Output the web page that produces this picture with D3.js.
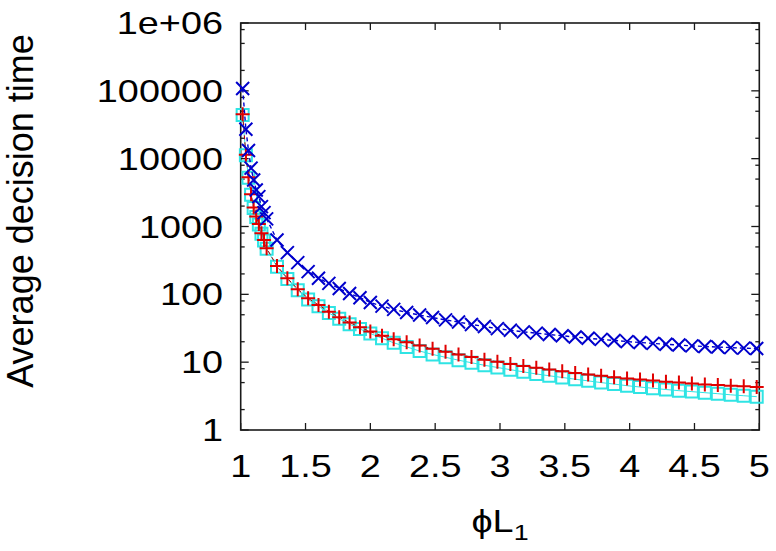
<!DOCTYPE html>
<html>
<head>
<meta charset="utf-8">
<script src="https://cdn.jsdelivr.net/npm/d3@7"></script>
<style>
  body { margin: 0; background: #fff; }
  text { font-family: "Liberation Sans", Arial, Helvetica, sans-serif; fill: #000; }
</style>
</head>
<body>
<svg id="chart"></svg>
<script>
// Constants
const width = 776;
const height = 551;

// Data (phi*L1 on x, average decision time on y)
const phiL1 = [
  1.015, 1.04, 1.06, 1.08, 1.10, 1.12, 1.14, 1.16, 1.18, 1.20,
  1.28, 1.36, 1.44, 1.52, 1.60, 1.68, 1.76, 1.84, 1.92, 2.00, 2.09, 2.18,
  2.28, 2.38, 2.48, 2.58, 2.68, 2.78, 2.88, 2.98, 3.08, 3.18,
  3.28, 3.38, 3.48, 3.58, 3.68, 3.78, 3.88, 3.98, 4.08, 4.18,
  4.28, 4.38, 4.48, 4.58, 4.68, 4.78, 4.88, 4.98
];
const timeCross = [
  108000, 27200, 13200, 7250, 4860, 3460, 2760, 1965, 1600, 1295,
  634, 412, 293, 216, 173, 145, 122, 103, 89, 76, 67, 60,
  54, 49.5, 45.5, 42, 39, 36, 33.5, 31.2, 29.5, 28,
  26.8, 25.6, 24.5, 23.5, 22.5, 21.7, 20.9, 20.1, 19.5, 18.9,
  18.4, 17.9, 17.4, 17.0, 16.7, 16.4, 16.1, 15.9
];
const timePlus = [
  45000, 11400, 5340, 2990, 1900, 1400, 1090, 796, 634, 478,
  262, 173, 119, 87.5, 69.8, 55.6, 45.9, 38.3, 32.7, 28.2, 24.5, 21.8,
  19.7, 17.6, 15.8, 14.3, 13.0, 11.9, 10.9, 10.1, 9.4, 8.8,
  8.25, 7.8, 7.35, 6.95, 6.6, 6.3, 6.0, 5.75, 5.55, 5.35,
  5.15, 5.0, 4.85, 4.7, 4.6, 4.5, 4.4, 4.3
];
const timeSquare = [
  44000, 11200, 5250, 2950, 1870, 1380, 1070, 780, 620, 468,
  255, 168, 115, 84, 66.5, 53, 43.5, 36.2, 30.8, 26.5, 22.5, 19.3,
  16.8, 14.6, 13.0, 11.8, 10.7, 9.8, 9.0, 8.35, 7.75, 7.2,
  6.7, 6.3, 5.95, 5.6, 5.3, 5.0, 4.75, 4.5, 4.3, 4.12,
  3.95, 3.8, 3.68, 3.55, 3.43, 3.3, 3.2, 3.1
];

// Tick labels
const xTicks = [1, 1.5, 2, 2.5, 3, 3.5, 4, 4.5, 5];
const xTickLabels = ["1", "1.5", "2", "2.5", "3", "3.5", "4", "4.5", "5"];
const yTicks = [1, 10, 100, 1000, 10000, 100000, 1000000];
const yTickLabels = ["1", "10", "100", "1000", "10000", "100000", "1e+06"];
const yMinorSteps = [2, 5, 8];

const svg = d3.select("#chart")
  .attr("width", width)
  .attr("height", height);

const plot = { left: 240.7, right: 759.3, top: 23, bottom: 430 };

// Scales
const x = d3.scaleLinear().domain([1, 5]).range([plot.left, plot.right]);
const y = d3.scaleLog().domain([1, 1e6]).range([plot.bottom, plot.top]);

const axisColor = "#1a1a1a";
const tickG = svg.append("g").attr("stroke", axisColor).attr("stroke-width", 1.3);

// x ticks, bottom and mirrored top
xTicks.forEach(v => {
  tickG.append("line").attr("x1", x(v)).attr("x2", x(v)).attr("y1", plot.bottom).attr("y2", plot.bottom - 7);
  tickG.append("line").attr("x1", x(v)).attr("x2", x(v)).attr("y1", plot.top).attr("y2", plot.top + 7);
});

// y ticks (major + minor), left and mirrored right
const yMinor = [];
yTicks.slice(0, -1).forEach(d => yMinorSteps.forEach(m => yMinor.push(d * m)));
yTicks.forEach(v => {
  tickG.append("line").attr("x1", plot.left).attr("x2", plot.left + 8).attr("y1", y(v)).attr("y2", y(v));
  tickG.append("line").attr("x1", plot.right).attr("x2", plot.right - 8).attr("y1", y(v)).attr("y2", y(v));
});
yMinor.forEach(v => {
  tickG.append("line").attr("x1", plot.left).attr("x2", plot.left + 4).attr("y1", y(v)).attr("y2", y(v));
  tickG.append("line").attr("x1", plot.right).attr("x2", plot.right - 4).attr("y1", y(v)).attr("y2", y(v));
});

// Border
svg.append("rect")
  .attr("x", plot.left).attr("y", plot.top)
  .attr("width", plot.right - plot.left).attr("height", plot.bottom - plot.top)
  .attr("fill", "none").attr("stroke", axisColor).attr("stroke-width", 1.6);

// Tick labels (slightly wide font, as in the reference)
const labelSize = 31;
const stretch = 1.22;
xTicks.forEach((v, i) => {
  svg.append("text")
    .attr("transform", `translate(${x(v)},477) scale(${stretch},1)`)
    .attr("text-anchor", "middle")
    .style("font-size", labelSize + "px")
    .text(xTickLabels[i]);
});
yTicks.forEach((v, i) => {
  svg.append("text")
    .attr("transform", `translate(223,${y(v) + 11}) scale(${stretch},1)`)
    .attr("text-anchor", "end")
    .style("font-size", labelSize + "px")
    .text(yTickLabels[i]);
});

// Axis titles
svg.append("text")
  .attr("transform", "translate(33,211) rotate(-90)")
  .attr("text-anchor", "middle")
  .style("font-size", "36px")
  .text("Average decision time");

const xTitle = svg.append("text")
  .attr("transform", `translate(500,532) scale(${stretch},1)`)
  .attr("text-anchor", "middle")
  .style("font-size", "31px");
xTitle.append("tspan").text("ϕL");
xTitle.append("tspan").attr("dy", 8).style("font-size", "22px").text("1");

// Series
const points = ys => phiL1.map((v, i) => [x(v), y(ys[i])]);
const line = d3.line();

const series = [
  { data: timeSquare, color: "#2fe4e4", dash: null, lw: 1, marker: "square" },
  { data: timePlus, color: "#e00000", dash: "4,3", lw: 1, marker: "plus" },
  { data: timeCross, color: "#0000cc", dash: "4,3", lw: 1.4, marker: "cross" }
];

const markerPath = {
  cross: s => `M${-s},${-s}L${s},${s}M${-s},${s}L${s},${-s}`,
  plus: s => `M${-s},0L${s},0M0,${-s}L0,${s}`,
  square: s => `M${-s},${-s}H${s}V${s}H${-s}Z`
};
const markerSize = { cross: 6.5, plus: 7, square: 6 };

series.forEach(s => {
  const pts = points(s.data);
  svg.append("path")
    .attr("d", line(pts))
    .attr("fill", "none")
    .attr("stroke", s.marker === "plus" ? "#b00000" : s.color)
    .attr("stroke-width", s.lw)
    .attr("stroke-dasharray", s.dash);
  svg.append("g")
    .selectAll("path")
    .data(pts)
    .join("path")
    .attr("transform", d => `translate(${d[0]},${d[1]})`)
    .attr("d", markerPath[s.marker](markerSize[s.marker]))
    .attr("fill", "none")
    .attr("stroke", s.color)
    .attr("stroke-width", 2);
});
</script>
</body>
</html>
